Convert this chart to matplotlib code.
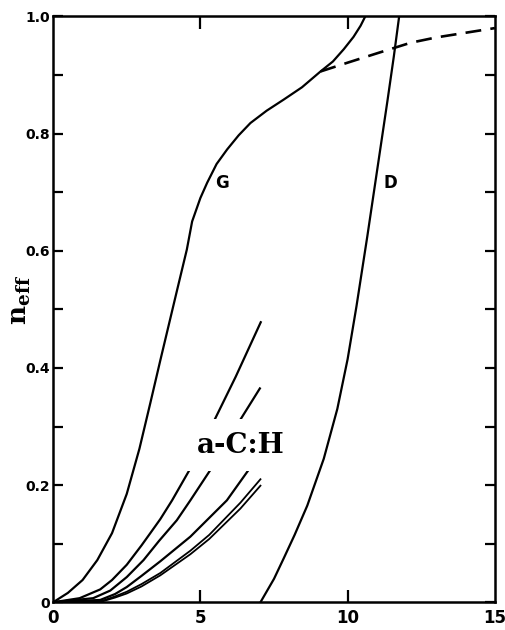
import matplotlib
matplotlib.use("Agg")
import matplotlib.pyplot as plt
from matplotlib.ticker import MultipleLocator, FixedLocator

# ---- data ----
g_x = [0, 0.5, 1.0, 1.5, 2.0, 2.5, 2.93, 3.3, 3.64, 4.21, 4.54, 4.72,
       5.0, 5.23, 5.55, 5.91, 6.3, 6.7, 7.25, 7.83, 8.45, 9.08, 9.5, 9.87, 10.2, 10.44, 10.6]
g_y = [0, 0.016, 0.038, 0.072, 0.118, 0.185, 0.262, 0.34, 0.413, 0.533, 0.602, 0.65,
       0.69, 0.716, 0.748, 0.773, 0.797, 0.818, 0.839, 0.858, 0.879, 0.906, 0.923, 0.944, 0.965, 0.984, 1.0]

dash_x = [9.08, 10.0, 11.0, 12.14, 13.0, 14.0, 15.0]
dash_y = [0.906, 0.921, 0.937, 0.955, 0.964, 0.972, 0.98]

d_x = [7.04, 7.5, 7.83, 8.2, 8.63, 9.19, 9.65, 10.0, 10.3, 10.67, 11.01, 11.35, 11.57, 11.75]
d_y = [0, 0.04, 0.075, 0.115, 0.165, 0.245, 0.33, 0.415, 0.505, 0.625, 0.74, 0.855, 0.932, 1.0]

ach1_x = [0, 0.9, 1.6, 2.0, 2.5, 3.0, 3.3, 3.64, 4.04, 4.7, 5.4, 6.2, 7.05]
ach1_y = [0, 0.007, 0.022, 0.038, 0.064, 0.097, 0.118, 0.142, 0.174, 0.232, 0.303, 0.385, 0.478]

ach2_x = [0, 1.36, 1.94, 2.5, 3.07, 3.6, 4.2, 4.66, 5.42, 6.25, 7.02]
ach2_y = [0, 0.007, 0.02, 0.043, 0.072, 0.105, 0.14, 0.174, 0.232, 0.303, 0.365]

ach3_x = [0, 1.6, 2.1, 2.5, 3.0, 3.64, 4.66, 5.9, 6.78]
ach3_y = [0, 0.004, 0.014, 0.026, 0.045, 0.07, 0.112, 0.174, 0.236]

ach4_x = [0, 1.7, 2.1, 2.5, 3.0, 3.64, 4.66, 5.3, 6.36, 7.04]
ach4_y = [0, 0.003, 0.01, 0.018, 0.031, 0.05, 0.088, 0.115, 0.17, 0.21]

ach5_x = [0, 1.7, 2.1, 2.5, 3.0, 3.64, 4.66, 5.3, 6.36, 7.04]
ach5_y = [0, 0.002, 0.008, 0.015, 0.027, 0.046, 0.082, 0.108, 0.16, 0.199]

x_ticks = [0, 5, 10, 15]
x_labels = ["0", "5", "10", "15"]
y_ticks = [0, 0.2, 0.4, 0.6, 0.8, 1.0]
y_labels = ["0", "0.2", "0.4", "0.6", "0.8", "1.0"]

# ---- figure ----
fig = plt.figure(figsize=(5.06, 6.30), dpi=100)
ax = fig.add_axes([0.105, 0.044, 0.873, 0.930])

lw = 1.6
ax.plot(g_x, g_y, color="black", lw=lw)
ax.plot(dash_x, dash_y, color="black", lw=1.9, dashes=(6, 3.5))
ax.plot(d_x, d_y, color="black", lw=lw)
for xs, ys, w in [(ach1_x, ach1_y, lw), (ach2_x, ach2_y, lw), (ach3_x, ach3_y, lw),
                  (ach4_x, ach4_y, 1.3), (ach5_x, ach5_y, 1.3)]:
    ax.plot(xs, ys, color="black", lw=w)

ax.set_xlim(0, 15)
ax.set_ylim(0, 1.0)

for s in ax.spines.values():
    s.set_linewidth(1.8)

ax.xaxis.set_major_locator(FixedLocator(x_ticks))
ax.set_xticklabels(x_labels, fontsize=12, fontweight="bold")
ax.yaxis.set_major_locator(FixedLocator(y_ticks))
ax.set_yticklabels(y_labels, fontsize=10, fontweight="bold")
ax.yaxis.set_minor_locator(MultipleLocator(0.1))

ax.tick_params(axis="x", which="major", direction="in", length=9, width=1.6,
               top=True, bottom=True, pad=5)
ax.tick_params(axis="y", which="both", direction="in", length=7, width=1.6,
               left=True, right=True, pad=2)
for t in ax.xaxis.get_major_ticks():
    if t.get_loc() in (0, 15):
        t.tick1line.set_visible(False)
        t.tick2line.set_visible(False)

ax.text(5.75, 0.716, "G", fontsize=12, fontweight="bold", ha="center", va="center")
ax.text(11.46, 0.716, "D", fontsize=12, fontweight="bold", ha="center", va="center")
ax.text(6.36, 0.268, "a-C:H", fontsize=20, fontweight="bold", family="DejaVu Serif",
        ha="center", va="center",
        bbox=dict(facecolor="white", edgecolor="none", pad=9))

fig.text(20 / 506, 1 - 300 / 630, r"$\mathbf{n_{eff}}$", rotation=90, fontsize=19,
         ha="center", va="center", math_fontfamily="dejavuserif")

fig.savefig("out.png", dpi=100)
